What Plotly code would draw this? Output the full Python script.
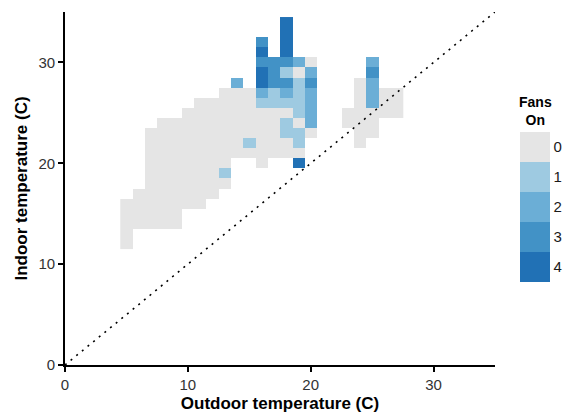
import plotly.graph_objects as go

N = None

# Indoor temperature rows (C), first outdoor temperature of each row (C),
# and the number of fans on for consecutive 1-degree outdoor cells (None = no data)
indoor_temps = [34, 33, 32, 31, 30, 29, 28, 27, 26, 25, 24, 23, 22, 21, 20, 19, 18, 17, 16, 15, 14, 13, 12]
row_first_outdoor = [18, 18, 16, 16, 16, 16, 14, 13, 11, 10, 8, 7, 7, 7, 7, 7, 7, 6, 5, 5, 5, 5, 5]
row_fans = [
    [4],
    [4],
    [3, N, 4],
    [4, N, 4],
    [3, 3, 3, 2, 0, N, N, N, N, 2],
    [4, 3, 1, 0, 2, N, N, N, N, 3],
    [2, N, 4, 3, 3, 1, 3, N, N, N, 0, 2],
    [0, 0, 0, 2, 1, 2, 1, 2, N, N, N, 0, 2, 0, 0],
    [0, 0, 0, 0, 0, 1, 1, 1, 1, 2, N, N, N, 0, 2, 0, 0],
    [0, 0, 0, 0, 0, 0, 0, 0, 0, 1, 2, N, N, 0, 0, 0, 0, 0],
    [0, 0, 0, 0, 0, 0, 0, 0, 0, 0, 1, 0, 2, N, N, 0, 0, 0],
    [0, 0, 0, 0, 0, 0, 0, 0, 0, 0, 0, 1, 1, 0, N, N, N, 0, 0],
    [0, 0, 0, 0, 0, 0, 0, 0, 1, 0, 0, 0, 1, N, N, N, N, 0],
    [0, 0, 0, 0, 0, 0, 0, 0, 0, 0, 0, 0, 0],
    [0, 0, 0, 0, 0, 0, 0, N, N, 0, N, N, 4],
    [0, 0, 0, 0, 0, 0, 1],
    [0, 0, 0, 0, 0, 0, 0],
    [0, 0, 0, 0, 0, 0, 0],
    [0, 0, 0, 0, 0, 0, 0],
    [0, 0, 0, 0, 0],
    [0, 0, 0, 0, 0],
    [0],
    [0],
]

fan_levels = [0, 1, 2, 3, 4]
fan_colors = ["#E5E5E5", "#9ECAE1", "#6BAED6", "#4292C6", "#2171B5"]
axis_ticks = [0, 10, 20, 30]
axis_max = 35

# ---- build the grid -------------------------------------------------------
x_min = min(row_first_outdoor)
x_max = max(s + len(r) - 1 for s, r in zip(row_first_outdoor, row_fans))
y_min, y_max = min(indoor_temps), max(indoor_temps)
xs = list(range(x_min, x_max + 1))
ys = list(range(y_min, y_max + 1))
z = [[None] * len(xs) for _ in ys]
for yv, start, vals in zip(indoor_temps, row_first_outdoor, row_fans):
    for i, v in enumerate(vals):
        if v is not None:
            # negated so that the colour bar reads 0 at top, 4 at bottom
            z[yv - y_min][start + i - x_min] = -v

n = len(fan_levels)
zmin, zmax = -fan_levels[-1] - 0.5, -fan_levels[0] + 0.5
colorscale = []
for k, lvl in enumerate(reversed(fan_levels)):
    c = fan_colors[lvl]
    colorscale.append([k / n, c])
    colorscale.append([(k + 1) / n, c])

W, H = 569, 417
ml, mr, mt, mb = 65, 73.5, 11.7, 51.7
pw, ph = W - ml - mr, H - mt - mb

fig = go.Figure()
fig.add_trace(go.Heatmap(
    x=xs, y=ys, z=z,
    zmin=zmin, zmax=zmax,
    colorscale=colorscale,
    xgap=0, ygap=0,
    hoverongaps=False,
    colorbar=dict(
        xref="container",
        x=520 / W, xanchor="left", xpad=0,
        yref="paper",
        y=(H - mb - 131.7) / ph, yanchor="top", ypad=0,
        len=150, lenmode="pixels",
        thickness=30, thicknessmode="pixels",
        outlinewidth=0,
        tickmode="array",
        tickvals=[-v for v in fan_levels],
        ticktext=[str(v) for v in fan_levels],
        ticks="",
        tickfont=dict(size=15, color="#1a1a1a"),
    ),
))

fig.add_trace(go.Scatter(
    x=[0, axis_max], y=[0, axis_max],
    mode="lines",
    line=dict(color="black", width=1.6, dash="2px,5.3px"),
    showlegend=False, hoverinfo="skip",
))

axis_common = dict(
    range=[0, axis_max],
    tickmode="array",
    tickvals=axis_ticks,
    showline=True, linecolor="black", linewidth=1.8,
    ticks="outside", ticklen=5, tickwidth=1.8, tickcolor="black",
    tickfont=dict(size=15, color="#333333"),
    showgrid=False, zeroline=False,
)

fig.update_layout(
    width=W, height=H,
    margin=dict(l=ml, r=mr, t=mt, b=mb, autoexpand=False),
    paper_bgcolor="white", plot_bgcolor="white",
    font=dict(family="Liberation Sans, Arial, sans-serif", color="black"),
    showlegend=False,
    xaxis=dict(**axis_common,
               title=dict(text="<b>Outdoor temperature (C)</b>",
                          font=dict(size=17, color="black"), standoff=5)),
    yaxis=dict(**axis_common,
               title=dict(text="<b>Indoor temperature (C)</b>",
                          font=dict(size=17, color="black"), standoff=6)),
    annotations=[dict(
        text="<b>Fans</b><br><b>On</b>",
        xref="paper", yref="paper",
        x=(536 - ml) / pw,
        y=(H - mb - 110.8) / ph,
        xanchor="center", yanchor="middle",
        showarrow=False, align="center",
        font=dict(size=14, color="black"),
    )],
)

fig.write_html("out.html")
